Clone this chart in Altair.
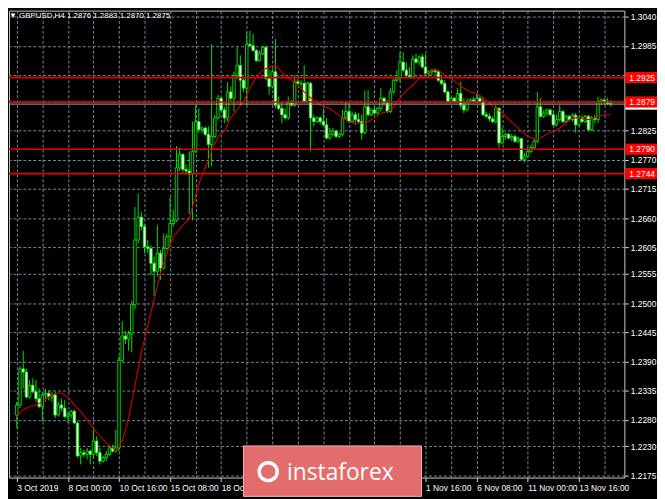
import altair as alt
import pandas as pd

# ---------------- data ----------------
opens = [1.2289,1.2308,1.2376,1.2370,1.2323,1.2345,1.2333,1.2320,1.2305,1.2327,
         1.2330,1.2323,1.2327,1.2289,1.2308,1.2302,1.2286,1.2289,1.2296,1.2274,
         1.2212,1.2218,1.2215,1.2221,1.2215,1.2240,1.2218,1.2202,1.2209,1.2215,
         1.2227,1.2221,1.2227,1.2392,1.2438,1.2432,1.2442,1.2497,1.2619,1.2662,
         1.2644,1.2606,1.2603,1.2575,1.2560,1.2594,1.2566,1.2603,1.2625,1.2650,
         1.2656,1.2755,1.2780,1.2752,1.2749,1.2743,1.2786,1.2842,1.2827,1.2830,
         1.2818,1.2799,1.2814,1.2849,1.2886,1.2864,1.2849,1.2898,1.2886,1.2929,
         1.2948,1.2920,1.2905,1.2988,1.2985,1.2976,1.2957,1.2970,1.2982,1.2923,
         1.2908,1.2936,1.2873,1.2867,1.2855,1.2849,1.2877,1.2873,1.2917,1.2914,
         1.2914,1.2880,1.2914,1.2849,1.2842,1.2849,1.2842,1.2836,1.2811,1.2818,
         1.2824,1.2814,1.2818,1.2849,1.2861,1.2842,1.2855,1.2846,1.2842,1.2821,
         1.2870,1.2855,1.2864,1.2858,1.2867,1.2886,1.2877,1.2861,1.2898,1.2920,
         1.2923,1.2954,1.2939,1.2929,1.2926,1.2960,1.2954,1.2964,1.2945,1.2932,
         1.2936,1.2939,1.2936,1.2920,1.2914,1.2898,1.2880,1.2886,1.2880,1.2895,
         1.2873,1.2864,1.2880,1.2883,1.2880,1.2886,1.2880,1.2855,1.2852,1.2847,
         1.2842,1.2867,1.2802,1.2814,1.2818,1.2811,1.2814,1.2805,1.2810,1.2771,
         1.2777,1.2786,1.2793,1.2805,1.2870,1.2852,1.2858,1.2864,1.2855,1.2836,
         1.2846,1.2861,1.2842,1.2852,1.2846,1.2854,1.2836,1.2849,1.2842,1.2852,
         1.2827,1.2849,1.2846,1.2880,1.2883,1.2880,1.2876]
highs = [1.2314,1.2382,1.2410,1.2376,1.2355,1.2358,1.2355,1.2339,1.2333,1.2339,
         1.2336,1.2333,1.2333,1.2314,1.2320,1.2317,1.2296,1.2299,1.2299,1.2277,
         1.2227,1.2224,1.2227,1.2224,1.2261,1.2249,1.2227,1.2212,1.2221,1.2230,
         1.2233,1.2261,1.2401,1.2466,1.2448,1.2448,1.2504,1.2681,1.2706,1.2672,
         1.2650,1.2619,1.2609,1.2588,1.2647,1.2600,1.2631,1.2631,1.2700,1.2675,
         1.2796,1.2793,1.2783,1.2762,1.2786,1.2842,1.2873,1.2867,1.2833,1.2833,
         1.2833,1.2988,1.2855,1.2892,1.2889,1.2870,1.2917,1.2908,1.2936,1.2982,
         1.2967,1.2923,1.3010,1.3013,1.3007,1.2979,1.2976,1.2985,1.2985,1.2942,
         1.2942,1.2998,1.2889,1.2877,1.2867,1.2889,1.2883,1.2929,1.2923,1.2920,
         1.2948,1.2917,1.2917,1.2855,1.2852,1.2852,1.2867,1.2849,1.2830,1.2830,
         1.2827,1.2821,1.2864,1.2880,1.2877,1.2861,1.2861,1.2858,1.2855,1.2901,
         1.2901,1.2867,1.2870,1.2870,1.2905,1.2889,1.2883,1.2905,1.2923,1.2939,
         1.2973,1.2973,1.2954,1.2945,1.2967,1.2970,1.2967,1.2970,1.2970,1.2939,
         1.2942,1.2942,1.2939,1.2929,1.2920,1.2901,1.2889,1.2889,1.2905,1.2917,
         1.2886,1.2886,1.2886,1.2889,1.2895,1.2892,1.2889,1.2861,1.2858,1.2852,
         1.2873,1.2870,1.2830,1.2821,1.2821,1.2818,1.2818,1.2814,1.2811,1.2783,
         1.2793,1.2799,1.2811,1.2898,1.2886,1.2864,1.2867,1.2867,1.2864,1.2855,
         1.2873,1.2864,1.2855,1.2855,1.2858,1.2858,1.2852,1.2855,1.2855,1.2855,
         1.2852,1.2855,1.2889,1.2886,1.2886,1.2887,1.2883]
lows = [1.2264,1.2302,1.2339,1.2320,1.2320,1.2330,1.2314,1.2302,1.2277,1.2314,
        1.2317,1.2314,1.2283,1.2286,1.2296,1.2283,1.2274,1.2283,1.2271,1.2209,
        1.2196,1.2209,1.2205,1.2196,1.2209,1.2212,1.2196,1.2199,1.2202,1.2212,
        1.2218,1.2218,1.2221,1.2389,1.2423,1.2410,1.2407,1.2488,1.2612,1.2637,
        1.2594,1.2594,1.2553,1.2513,1.2550,1.2544,1.2563,1.2600,1.2606,1.2644,
        1.2653,1.2749,1.2746,1.2743,1.2668,1.2656,1.2783,1.2821,1.2821,1.2814,
        1.2755,1.2758,1.2811,1.2846,1.2861,1.2839,1.2842,1.2880,1.2861,1.2923,
        1.2873,1.2898,1.2873,1.2982,1.2973,1.2954,1.2955,1.2967,1.2920,1.2892,
        1.2905,1.2867,1.2864,1.2839,1.2846,1.2846,1.2870,1.2870,1.2911,1.2908,
        1.2877,1.2877,1.2786,1.2833,1.2839,1.2836,1.2833,1.2808,1.2808,1.2814,
        1.2811,1.2811,1.2814,1.2846,1.2839,1.2839,1.2836,1.2839,1.2808,1.2818,
        1.2852,1.2852,1.2855,1.2855,1.2861,1.2873,1.2858,1.2858,1.2895,1.2917,
        1.2917,1.2936,1.2926,1.2923,1.2923,1.2951,1.2948,1.2942,1.2929,1.2926,
        1.2929,1.2932,1.2917,1.2911,1.2895,1.2877,1.2877,1.2877,1.2877,1.2867,
        1.2858,1.2861,1.2877,1.2877,1.2877,1.2877,1.2852,1.2849,1.2842,1.2839,
        1.2839,1.2793,1.2799,1.2808,1.2808,1.2805,1.2802,1.2802,1.2768,1.2765,
        1.2774,1.2783,1.2790,1.2802,1.2849,1.2849,1.2852,1.2852,1.2833,1.2833,
        1.2842,1.2839,1.2839,1.2842,1.2842,1.2821,1.2833,1.2839,1.2839,1.2824,
        1.2824,1.2839,1.2839,1.2873,1.2874,1.2873,1.2870]
closes = [1.2308,1.2376,1.2370,1.2323,1.2345,1.2333,1.2320,1.2305,1.2327,1.2330,
          1.2323,1.2327,1.2289,1.2308,1.2302,1.2286,1.2289,1.2296,1.2274,1.2212,
          1.2218,1.2215,1.2221,1.2215,1.2240,1.2218,1.2202,1.2209,1.2215,1.2227,
          1.2221,1.2227,1.2392,1.2438,1.2432,1.2442,1.2497,1.2619,1.2662,1.2644,
          1.2606,1.2603,1.2575,1.2560,1.2594,1.2566,1.2603,1.2625,1.2650,1.2656,
          1.2755,1.2780,1.2752,1.2749,1.2743,1.2786,1.2842,1.2827,1.2830,1.2818,
          1.2799,1.2814,1.2849,1.2886,1.2864,1.2849,1.2898,1.2886,1.2929,1.2948,
          1.2920,1.2905,1.2988,1.2985,1.2976,1.2957,1.2970,1.2982,1.2923,1.2908,
          1.2936,1.2873,1.2867,1.2855,1.2849,1.2877,1.2873,1.2917,1.2914,1.2914,
          1.2880,1.2914,1.2849,1.2842,1.2849,1.2842,1.2836,1.2811,1.2818,1.2824,
          1.2814,1.2818,1.2849,1.2861,1.2842,1.2855,1.2846,1.2842,1.2821,1.2870,
          1.2855,1.2864,1.2858,1.2867,1.2886,1.2877,1.2861,1.2898,1.2920,1.2923,
          1.2954,1.2939,1.2929,1.2926,1.2960,1.2954,1.2964,1.2945,1.2932,1.2936,
          1.2939,1.2936,1.2920,1.2914,1.2898,1.2880,1.2886,1.2880,1.2895,1.2873,
          1.2864,1.2880,1.2883,1.2880,1.2886,1.2880,1.2855,1.2852,1.2847,1.2842,
          1.2867,1.2802,1.2814,1.2818,1.2811,1.2814,1.2805,1.2810,1.2771,1.2777,
          1.2786,1.2793,1.2805,1.2870,1.2852,1.2858,1.2864,1.2855,1.2836,1.2846,
          1.2861,1.2842,1.2852,1.2846,1.2854,1.2836,1.2849,1.2842,1.2852,1.2827,
          1.2849,1.2846,1.2880,1.2883,1.2880,1.2876,1.2875]

ma_bars = [0,2,4,6,8,10,12,14,16,18,20,22,24,26,28,30,31,33,35,37,39,41,43,45,47,
           49,51,52,54,55,57,59,61,63,65,67,69,71,73,75,77,79,81,82,84,86,88,90,92,
           94,96,98,100,102,104,106,108,110,112,114,116,118,120,122,124,126,128,130,
           132,134,136,138,140,142,144,146,148,150,152,154,156,158,160,162,164,166,
           168,170,172,174,176,178,180,182,184,186]
ma_vals = [1.2286,1.2299,1.2305,1.2308,1.2314,1.2323,1.2330,1.2330,1.2323,1.2308,
           1.2296,1.2280,1.2264,1.2249,1.2236,1.2227,1.2221,1.2240,1.2283,1.2345,
           1.2407,1.2457,1.2507,1.2556,1.2594,1.2625,1.2640,1.2647,1.2659,1.2681,
           1.2724,1.2755,1.2786,1.2814,1.2824,1.2849,1.2864,1.2880,1.2905,1.2926,
           1.2939,1.2945,1.2948,1.2942,1.2929,1.2920,1.2911,1.2898,1.2887,1.2877,
           1.2870,1.2867,1.2858,1.2849,1.2842,1.2839,1.2839,1.2842,1.2849,1.2858,
           1.2861,1.2870,1.2886,1.2901,1.2911,1.2923,1.2932,1.2939,1.2939,1.2929,
           1.2923,1.2914,1.2905,1.2898,1.2895,1.2886,1.2877,1.2867,1.2858,1.2846,
           1.2836,1.2824,1.2814,1.2810,1.2811,1.2818,1.2824,1.2830,1.2839,1.2849,
           1.2849,1.2846,1.2846,1.2852,1.2855,1.2855]

y_ticks = [1.3040,1.2985,1.2930,1.2880,1.2825,1.2770,1.2715,1.2660,1.2605,1.2555,
           1.2500,1.2445,1.2390,1.2335,1.2280,1.2230,1.2175]
hidden_y_labels = [1.2930, 1.2880]          # covered by the level boxes
x_label_bars = [0,16,32,48,64,80,96,112,128,144,160,176]
x_labels = ["3 Oct 2019","8 Oct 00:00","10 Oct 16:00","15 Oct 08:00","18 Oct 00:00",
            "22 Oct 16:00","25 Oct 08:00","30 Oct 00:00","1 Nov 16:00","6 Nov 08:00",
            "11 Nov 00:00","13 Nov 16:00"]
hidden_x_labels = [80, 96, 112]             # covered by the watermark
levels = [1.2925, 1.2879, 1.2790, 1.2744]
bid = 1.2875
header = "▼  GBPUSD,H4  1.2876 1.2883 1.2870 1.2875"
watermark = "instaforex"

# ---------------- chart ----------------
W, H = 622, 472
XDOM = [-0.9, 188.7]
YDOM = [1.21711, 1.30512]
FONT = "Liberation Sans"
GRID = "#778899"

df = pd.DataFrame({"i": list(range(len(opens))), "o": opens, "h": highs,
                   "l": lows, "c": closes})
ma = pd.DataFrame({"b": ma_bars, "v": ma_vals})
lv = pd.DataFrame({"p": levels, "t": [f"{v:.4f}" for v in levels]})
lv["lo"] = lv["p"] - 0.00105
lv["hi"] = lv["p"] + 0.00105
bd = pd.DataFrame({"p": [bid]})
bd["lo"] = bd["p"] - 0.00105
bd["hi"] = bd["p"] + 0.00105

xs = alt.Scale(domain=XDOM, nice=False, zero=False)
ys = alt.Scale(domain=YDOM, nice=False, zero=False)

xexpr = " : ".join(f"datum.value == {b} ? '{t}'"
                   for b, t in zip(x_label_bars, x_labels)
                   if b not in hidden_x_labels) + " : ''"
yexpr = ("(" + " || ".join(f"datum.value == {v}" for v in hidden_y_labels) +
         ") ? '' : format(datum.value, '.4f')")

x_axis = alt.Axis(values=list(range(0, 189, 8)), labelExpr=xexpr, grid=True,
                  gridColor=GRID, gridDash=[3, 2], gridWidth=1,
                  tickColor="#d0d0d0", tickSize=4,
                  tickOpacity={"condition": {"test": "datum.value % 16 === 0", "value": 1}, "value": 0},
                  labelColor="white", labelFont=FONT, labelFontSize=8.5,
                  labelAlign="left", labelPadding=2, labelOverlap=False,
                  labelFlush=False, labelBound=False, domain=False, title=None)
y_axis = alt.Axis(orient="right", values=y_ticks, labelExpr=yexpr, grid=True,
                  gridColor=GRID, gridDash=[3, 2], gridWidth=1,
                  tickColor="#d0d0d0", tickSize=4, labelColor="white",
                  labelFont=FONT, labelFontSize=8.5, labelPadding=2,
                  labelOverlap=False, labelFlush=False, labelBound=False,
                  domain=False, title=None)

XA = lambda f: alt.X(f, scale=xs, axis=x_axis)
YA = lambda f: alt.Y(f, scale=ys, axis=y_axis)

wicks = alt.Chart(df).mark_rule(color="#00e000", strokeWidth=1).encode(
    x=XA("i:Q"), y=YA("l:Q"), y2="h:Q")

bodies = alt.Chart(df).mark_bar(size=2.5, strokeWidth=0.8, stroke="#00ff00").encode(
    x=XA("i:Q"), y=YA("o:Q"), y2="c:Q",
    fill=alt.condition("datum.c >= datum.o", alt.value("#000000"), alt.value("#ffffff")))

ma_line = alt.Chart(ma).mark_line(color="#d00000", strokeWidth=1.1).encode(
    x=XA("b:Q"), y=YA("v:Q"))

bid_line = alt.Chart(bd).mark_rule(color="#a8a8a8", strokeWidth=1).encode(y=YA("p:Q"))
lev_lines = alt.Chart(lv).mark_rule(color="#e80000", strokeWidth=1.6).encode(y=YA("p:Q"))

bid_box = alt.Chart(bd).mark_rect(fill="white").encode(
    x=alt.value(W + 1), x2=alt.value(W + 33), y=YA("lo:Q"), y2="hi:Q")
lev_box = alt.Chart(lv).mark_rect(fill="#ff0000").encode(
    x=alt.value(W + 1), x2=alt.value(W + 33), y=YA("lo:Q"), y2="hi:Q")
lev_txt = alt.Chart(lv).mark_text(align="left", baseline="middle", color="white",
                                  font=FONT, fontSize=8.5).encode(
    x=alt.value(W + 5), y=YA("p:Q"), text="t:N")

head = alt.Chart(pd.DataFrame({"t": [header]})).mark_text(
    align="left", baseline="middle", color="white", font=FONT, fontSize=8).encode(
    x=alt.value(0), y=alt.value(5), text="t:N")

wm = pd.DataFrame({"t": [watermark]})
wm_box = alt.Chart(wm).mark_rect(fill="#e36c6c", stroke="#f2b0b0", strokeWidth=1).encode(
    x=alt.value(237), x2=alt.value(417), y=alt.value(440), y2=alt.value(491))
wm_icon = alt.Chart(wm).mark_point(shape="circle", filled=False, stroke="white",
                                   strokeWidth=3.5, size=330, opacity=1).encode(
    x=alt.value(262), y=alt.value(466))
wm_txt = alt.Chart(wm).mark_text(align="left", baseline="alphabetic", color="white",
                                 font="Open Sans", fontSize=23).encode(
    x=alt.value(281), y=alt.value(474), text="t:N")

chart = alt.layer(
    wicks, bodies, ma_line, bid_line, lev_lines,
    bid_box, lev_box, lev_txt, head, wm_box, wm_icon, wm_txt
).properties(
    width=W, height=H, padding=0, background="#000000"
).configure_view(
    stroke="#c8c8c8", strokeWidth=1, fill="#000000"
).configure_axis(
    labelOverlap=False
)

chart.save("out.html", embed_options={"renderer": "svg", "actions": False})
